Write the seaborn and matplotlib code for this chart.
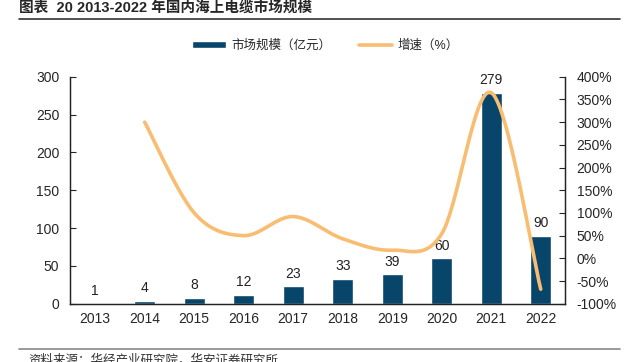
import numpy as np
import pandas as pd
import matplotlib
matplotlib.use("Agg")
import matplotlib.pyplot as plt
import seaborn as sns

# data
years = ["2013", "2014", "2015", "2016", "2017", "2018", "2019", "2020", "2021", "2022"]
market_size = [1, 4, 8, 12, 23, 33, 39, 60, 279, 90]
growth_years = ["2014", "2015", "2016", "2017", "2018", "2019", "2020", "2021", "2022"]
growth_pct = [300, 100, 50, 92, 43, 18, 54, 365, -68]

BAR_COLOR = "#08456b"
LINE_COLOR = "#f9bd72"


def smooth_curve(x, y, n=30):
    # Excel-style smoothed line: cubic bezier with control points from neighbours
    x = np.asarray(x, float)
    y = np.asarray(y, float)
    xs, ys = [], []
    for i in range(len(x) - 1):
        p0 = np.array([x[max(i - 1, 0)], y[max(i - 1, 0)]])
        p1 = np.array([x[i], y[i]])
        p2 = np.array([x[i + 1], y[i + 1]])
        p3 = np.array([x[min(i + 2, len(x) - 1)], y[min(i + 2, len(x) - 1)]])
        c1 = p1 + (p2 - p0) / 6
        c2 = p2 - (p3 - p1) / 6
        t = np.linspace(0, 1, n)[:, None]
        pts = ((1 - t) ** 3) * p1 + 3 * ((1 - t) ** 2) * t * c1 + 3 * (1 - t) * t ** 2 * c2 + t ** 3 * p2
        xs.extend(pts[:, 0])
        ys.extend(pts[:, 1])
    return np.array(xs), np.array(ys)


sns.set_style("white")
plt.rcParams["font.family"] = ["Liberation Sans", "Noto Sans CJK SC"]

fig = plt.figure(figsize=(6.29, 3.62), dpi=100)
ax = fig.add_axes([0.112, 0.161, 0.787, 0.627])

df = pd.DataFrame({"year": years, "size": market_size})
sns.barplot(data=df, x="year", y="size", color=BAR_COLOR, width=0.42,
            saturation=1, ax=ax, label="市场规模（亿元）")
for i, v in enumerate(market_size):
    ax.text(i, v + 7, str(v), ha="center", va="bottom", fontsize=10, color="#222222")

ax.set_ylim(0, 300)
ax.set_yticks(range(0, 301, 50))
ax.set_xlim(-0.5, len(years) - 0.5)
ax.set_xlabel("")
ax.set_ylabel("")
ax.set_xticks(np.arange(-0.5, len(years), 1), minor=True)
ax.tick_params(axis="x", which="major", length=0, labelsize=10, pad=6)
ax.tick_params(axis="x", which="minor", direction="in", length=4, width=0.8)
ax.tick_params(axis="y", direction="in", length=4, width=0.8, labelsize=10, pad=8)

ax2 = ax.twinx()
gx = [years.index(y) for y in growth_years]
sx, sy = smooth_curve(gx, growth_pct)
sns.lineplot(x=sx, y=sy, color=LINE_COLOR, linewidth=2.6, ax=ax2, sort=False,
             label="增速（%）")
ax2.set_ylim(-100, 400)
ax2.set_yticks(range(-100, 401, 50))
ax2.set_yticklabels([f"{v}%" for v in range(-100, 401, 50)])
ax2.tick_params(axis="y", direction="in", length=4, width=0.8, labelsize=10, pad=8)
ax2.set_xlim(-0.5, len(years) - 0.5)

for a in (ax, ax2):
    for s in a.spines.values():
        s.set_linewidth(0.9)
        s.set_color("#222222")
ax.spines["top"].set_visible(False)
ax2.spines["top"].set_visible(False)

h1, l1 = ax.get_legend_handles_labels()
h2, l2 = ax2.get_legend_handles_labels()
ax2.legend(h1 + h2, l1 + l2, loc="lower center", bbox_to_anchor=(0.515, 1.06), ncol=2,
           frameon=False, fontsize=9, handlelength=2.7, handleheight=0.6,
           handletextpad=0.4, columnspacing=2.2)
if ax.get_legend() is not None:
    ax.get_legend().remove()

fig.text(0.03, 0.975, "图表  20 2013-2022 年国内海上电缆市场规模", fontsize=10.5,
         fontweight="bold", va="center", ha="left")
fig.add_artist(plt.Line2D([0.03, 0.985], [0.948, 0.948], color="#333333", linewidth=1.2))
fig.add_artist(plt.Line2D([0.03, 0.985], [0.036, 0.036], color="#888888", linewidth=1.2))
fig.text(0.045, 0.004, "资料来源：华经产业研究院，华安证券研究所", fontsize=9, va="center",
         ha="left", color="#333333")

fig.savefig("out.png", dpi=100)
